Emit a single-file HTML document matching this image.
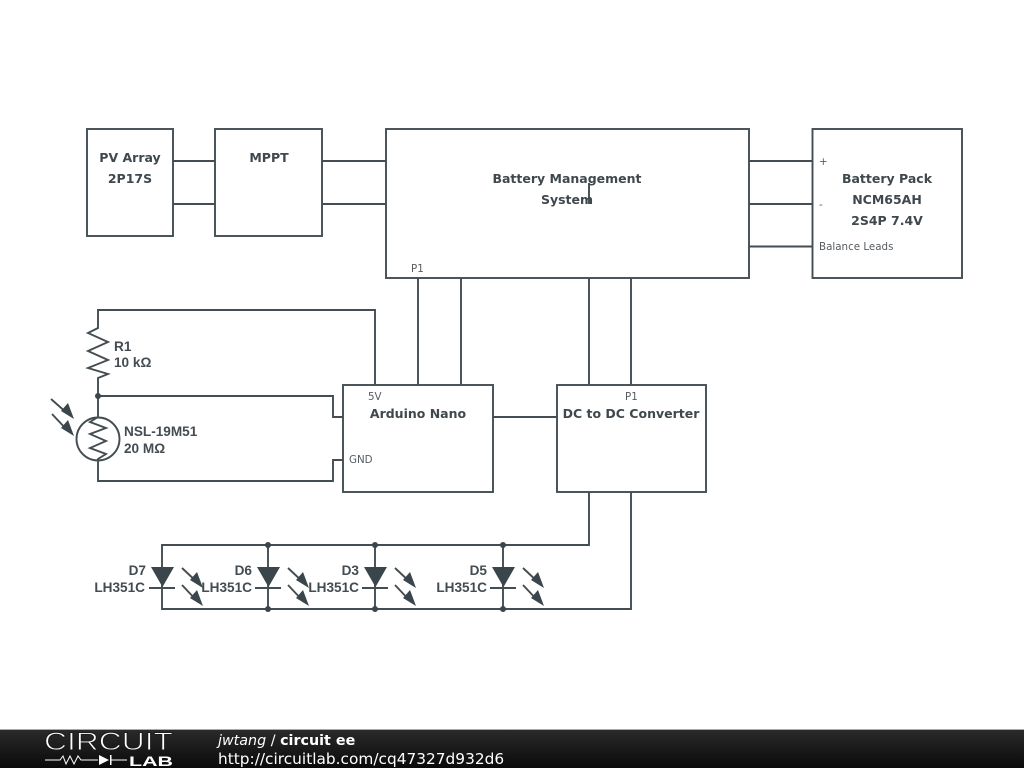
<!DOCTYPE html>
<html><head><meta charset="utf-8"><style>
html,body{margin:0;padding:0;background:#fff}
svg{display:block}
.w{fill:none;stroke:#434d52;stroke-width:1.9}
.b{font:bold 12.5px "DejaVu Sans",sans-serif;fill:#3f484d;text-anchor:middle}
.p{font:10.3px "DejaVu Sans",sans-serif;fill:#555c60}
.c{font:bold 13.6px "Liberation Sans",sans-serif;fill:#434c51}
.d{fill:#3a464b}
</style></head><body>
<svg width="1024" height="768" viewBox="0 0 1024 768" xmlns="http://www.w3.org/2000/svg">
<defs>
<linearGradient id="f" x1="0" y1="0" x2="0" y2="1"><stop offset="0" stop-color="#2b2b2b"/><stop offset="1" stop-color="#0a0a0a"/></linearGradient>
</defs>
<rect width="1024" height="768" fill="#fff"/>
<g class="w">
<rect x="87" y="129" width="86" height="107"/>
<rect x="215" y="129" width="107" height="107"/>
<rect x="386" y="129" width="363" height="149"/>
<rect x="812.500" y="129" width="149.500" height="149"/>
<rect x="343" y="385" width="150" height="107"/>
<rect x="557" y="385" width="149" height="107"/>
<path d="M173 161H215M173 204H215M322 161H386M322 204H386M749 161H812M749 204H812M749 246.500H812"/>
<path d="M418 278V385M461 278V385M589 278V385M631 278V385M493 417H557M589 183V204"/>
<path d="M375 385V310H98V328L88 333L108 342L88 351L108 360L88 368L108 374L98 378V417"/>
<path d="M98 396H333V417H343M98 460V481H333V460H343"/>
<circle cx="98" cy="439" r="21.500"/>
<path d="M98 417L90 422L106 428L90 434L106 441L90 448L106 454L98 459V461"/>
<path d="M51 399L68 414M52 414L68 431"/>
<path d="M589 492V545H162V609H631V492"/>
<path d="M268 545V609M375 545V609M503 545V609"/>
<path d="M149 588H175M255 588H281M362 588H388M490 588H516"/>
<path d="M182 568L198 583M182 585L198 602M288 568L304 583M288 585L304 602M395 568L411 583M395 585L411 602M523 568L539 583M523 585L539 602"/>
</g>
<g class="d">
<circle cx="98" cy="396" r="3"/>
<circle cx="268" cy="545" r="3"/><circle cx="375" cy="545" r="3"/><circle cx="503" cy="545" r="3"/>
<circle cx="268" cy="609" r="3"/><circle cx="375" cy="609" r="3"/><circle cx="503" cy="609" r="3"/>
<path d="M151 567H174L162.500 587Z"/>
<path d="M257 567H280L268.500 587Z"/>
<path d="M364 567H387L375.500 587Z"/>
<path d="M492 567H515L503.500 587Z"/>
<path d="M74 419L61 411L68 403Z"/>
<path d="M74 436L61 428L68 420Z"/>
<path d="M203 588L190 580L197 572Z"/><path d="M203 606L190 598L197 590Z"/>
<path d="M309 588L296 580L303 572Z"/><path d="M309 606L296 598L303 590Z"/>
<path d="M416 588L403 580L410 572Z"/><path d="M416 606L403 598L410 590Z"/>
<path d="M544 588L531 580L538 572Z"/><path d="M544 606L531 598L538 590Z"/>
</g>
<g class="b">
<text x="130" y="162">PV Array</text>
<text x="130" y="183">2P17S</text>
<text x="269" y="162">MPPT</text>
<text x="567" y="183">Battery Management</text>
<text x="567" y="204">System</text>
<text x="887" y="183">Battery Pack</text>
<text x="887" y="204">NCM65AH</text>
<text x="887" y="225">2S4P 7.4V</text>
<text x="418" y="418">Arduino Nano</text>
<text x="631" y="418">DC to DC Converter</text>
</g>
<g class="p">
<text x="411" y="272">P1</text>
<text x="819" y="165">+</text>
<text x="819" y="208">-</text>
<text x="819" y="250">Balance Leads</text>
<text x="368" y="400">5V</text>
<text x="349" y="463">GND</text>
<text x="625" y="400">P1</text>
</g>
<g class="c">
<text x="114" y="351">R1</text>
<text x="114" y="367">10 kΩ</text>
<text x="124" y="436">NSL-19M51</text>
<text x="124" y="453">20 MΩ</text>
<g text-anchor="end">
<text x="146" y="575">D7</text><text x="145" y="592">LH351C</text>
<text x="252" y="575">D6</text><text x="252" y="592">LH351C</text>
<text x="359" y="575">D3</text><text x="359" y="592">LH351C</text>
<text x="487" y="575">D5</text><text x="487" y="592">LH351C</text>
</g>
</g>
<rect y="729" width="1024" height="39" fill="url(#f)"/>
<rect y="729" width="1024" height="1" fill="#aaa"/>
<text x="44" y="750" textLength="129" lengthAdjust="spacingAndGlyphs" style="font:25px 'Liberation Sans',sans-serif;fill:#fff;stroke:#1c1c1c;stroke-width:.9">CIRCUIT</text>
<path d="M45 760H60L63 756L66 764L70 756L74 764L78 756L81 760H98M111 760H127" fill="none" stroke="#fff" stroke-width="1"/>
<path d="M99 755V765L109 760Z M110 755H111.500V765H110Z" fill="#fff"/>
<text x="129" y="766" textLength="44" lengthAdjust="spacingAndGlyphs" style="font:bold 14px 'Liberation Sans',sans-serif;fill:#fff">LAB</text>
<text x="218" y="745" style="font:14.300px 'DejaVu Sans',sans-serif;fill:#fff"><tspan font-style="italic">jwtang</tspan> / <tspan font-weight="bold">circuit ee</tspan></text>
<text x="218" y="764" style="font:15.360px 'DejaVu Sans',sans-serif;fill:#fff">http://circuitlab.com/cq47327d932d6</text>
</svg>
</body></html>
